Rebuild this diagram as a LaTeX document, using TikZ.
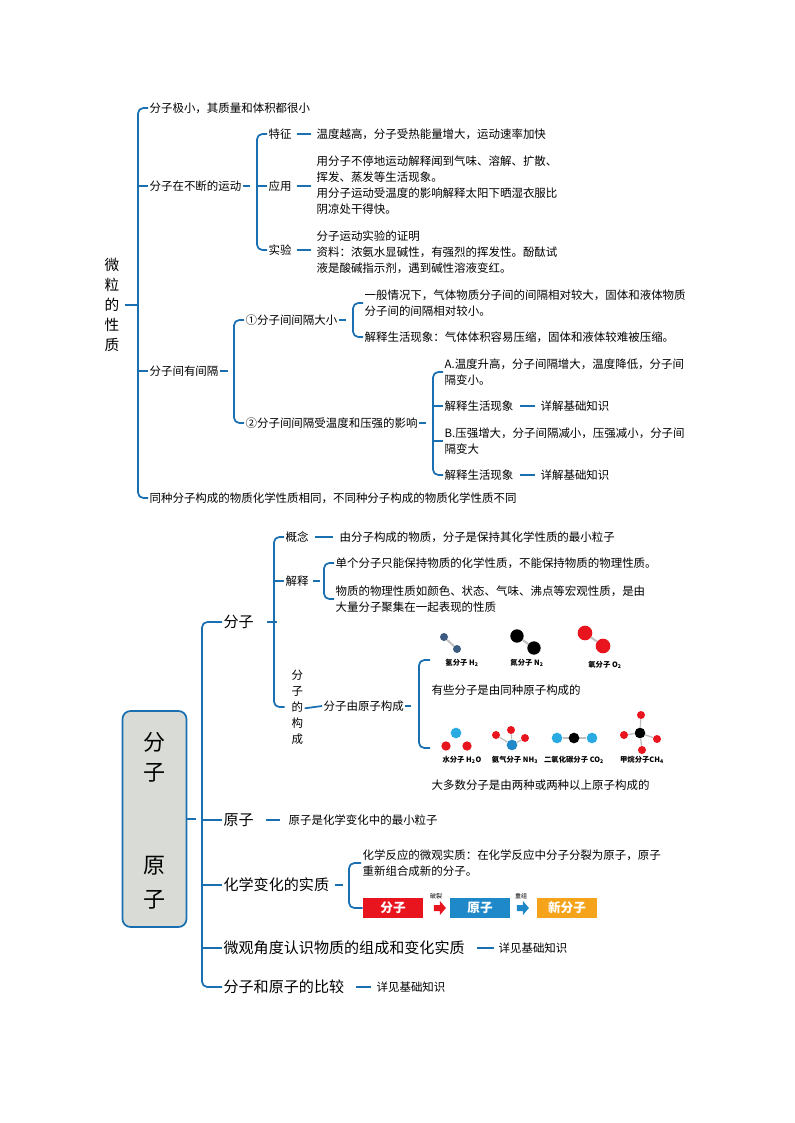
\documentclass[tikz,border=0pt]{standalone}
\usepackage{fontspec}
\setmainfont{Noto Sans CJK SC}
\usetikzlibrary{positioning,arrows.meta}
\definecolor{lineblue}{HTML}{1A6FB0}
\definecolor{boxgray}{HTML}{D9DCD6}
\definecolor{hblue}{HTML}{3D5A80}
\definecolor{ored}{HTML}{E8141E}
\definecolor{nblue}{HTML}{1E88C8}
\definecolor{cyanball}{HTML}{29ABE2}
\definecolor{newor}{HTML}{F5A31A}
\tikzset{
  txt/.style={anchor=west, inner sep=1pt, align=left, font=\fontsize{8.6}{12}\selectfont},
  big/.style={anchor=west, inner sep=1pt, font=\fontsize{11.3}{14}\selectfont},
  br/.style={draw=lineblue, line width=1.3pt, rounded corners=4pt},
  lk/.style={draw=lineblue, line width=1.3pt},
  mol/.style={anchor=center, inner sep=0pt, font=\bfseries\fontsize{5.5}{6}\selectfont},
  stepbox/.style={minimum width=45pt, minimum height=15pt, inner sep=0pt, text=white, font=\bfseries\fontsize{9.5}{10}\selectfont},
  ball/.style={circle, inner sep=0pt},
  fatarrow/.style={insert path={-- ++(0,-3) -- ++(6,0) -- ++(0,-4) -- ++(6,7) -- ++(-6,7) -- ++(0,-4) -- ++(-6,0) -- cycle}}
}
\begin{document}
\begin{tikzpicture}[x=0.75pt,y=-0.75pt]
\useasboundingbox (0,0) rectangle (794,1123);

% ---- upper map
\node[txt, align=center, font=\fontsize{11}{15}\selectfont] (root) at (103,305) {微\\粒\\的\\性\\质};
\node[txt] (small) at (148,108) {分子极小，其质量和体积都很小};
\node[txt] (move) at (148,186) {分子在不断的运动};
\node[txt] (gap) at (148,371) {分子间有间隔};
\node[txt] (same) at (148,498) {同种分子构成的物质化学性质相同，不同种分子构成的物质化学性质不同};
\draw[lk] ([xshift=3]root.east) -- ++(12,0);
\draw[br] (small.west) -- ++(-10,0) |- (same.west);
\draw[br] (move.west) -- ++(-10,0);
\draw[br] (gap.west) -- ++(-10,0);

\node[txt] (feat) at (267,134) {特征};
\node[txt] (use) at (267,186) {应用};
\node[txt] (exp) at (267,250) {实验};
\draw[lk] (move.east) -- ++(7,0);
\draw[br] (feat.west) -- ++(-10,0) |- (exp.west);
\draw[br] (use.west) -- ++(-10,0);
\node[txt] (featT) at (315,134) {温度越高，分子受热能量增大，运动速率加快};
\node[txt] (useT) at (315,185) {用分子不停地运动解释闻到气味、溶解、扩散、\\挥发、蒸发等生活现象。\\用分子运动受温度的影响解释太阳下晒湿衣服比\\阴凉处干得快。};
\node[txt] (expT) at (315,252) {分子运动实验的证明\\资料：浓氨水显碱性，有强烈的挥发性。酚酞试\\液是酸碱指示剂，遇到碱性溶液变红。};
\draw[lk] ([xshift=3]feat.east) -- ([xshift=-3]featT.west);
\draw[lk] ([xshift=3]use.east) -- ([xshift=-3]use.east -| useT.west);
\draw[lk] ([xshift=3]exp.east) -- ([xshift=-3]exp.east -| expT.west);

\node[txt] (size) at (244,320) {①分子间间隔大小};
\node[txt] (tp) at (244,423) {②分子间间隔受温度和压强的影响};
\draw[lk] (gap.east) -- ++(8,0);
\draw[br] (size.west) -- ++(-10,0) |- (tp.west);
\node[txt] (gen) at (363,303) {一般情况下，气体物质分子间的间隔相对较大，固体和液体物质\\分子间的间隔相对较小。};
\node[txt] (life) at (363,337) {解释生活现象：气体体积容易压缩，固体和液体较难被压缩。};
\draw[lk] (size.east) -- ++(7,0);
\draw[br] (gen.west) -- ++(-10,0) |- (life.west);

\node[txt] (tA) at (443,372) {A.温度升高，分子间隔增大，温度降低，分子间\\隔变小。};
\node[txt] (lA) at (443,406) {解释生活现象};
\node[txt] (pB) at (443,441) {B.压强增大，分子间隔减小，压强减小，分子间\\隔变大};
\node[txt] (lB) at (443,475) {解释生活现象};
\node[txt] (dA) at (539,406) {详解基础知识};
\node[txt] (dB) at (539,475) {详解基础知识};
\draw[lk] (tp.east) -- ++(7,0);
\draw[br] (tA.west) -- ++(-10,0) |- (lB.west);
\draw[br] (lA.west) -- ++(-10,0);
\draw[br] (pB.west) -- ++(-10,0);
\draw[lk] ([xshift=4]lA.east) -- ([xshift=-3]dA.west);
\draw[lk] ([xshift=4]lB.east) -- ([xshift=-3]dB.west);

% ---- lower map
\node[draw=lineblue, line width=1.3pt, fill=boxgray, rounded corners=6pt,
  minimum width=48pt, minimum height=162pt, inner sep=0pt] (box) at (154.5,819) {};
\foreach \c/\yy in {分/742,子/773,原/866,子/900}
  \node[inner sep=0pt, font=\fontsize{16.5}{18}\selectfont] at (154.5,\yy) {\c};

\node[big] (mol) at (222,622) {分子};
\node[big] (atom) at (222,820) {原子};
\node[big] (ess) at (222,885) {化学变化的实质};
\node[big] (micro) at (222,948) {微观角度认识物质的组成和变化实质};
\node[big] (cmp) at (222,987) {分子和原子的比较};
\draw[lk] (box.east) -- ++(9,0);
\draw[br] (mol.west) -- ++(-20,0) |- (cmp.west);
\foreach \n in {atom,ess,micro}
  \draw[br] (\n.west) -- ++(-20,0);

\node[txt] (con) at (284,537) {概念};
\node[txt] (expl) at (284,581) {解释};
\node[txt, align=center] (form) at (290,707) {分\\子\\的\\构\\成};
\draw[lk] ([xshift=9]mol.east) -- ++(10,0);
\draw[br] (con.west) -- ++(-10,0) |- ([xshift=-4]form.west);
\draw[br] (expl.west) -- ++(-10,0);
\node[txt] (conT) at (338,537) {由分子构成的物质，分子是保持其化学性质的最小粒子};
\draw[lk] ([xshift=4]con.east) -- ([xshift=-4]conT.west);
\node[txt] (e1) at (334,563) {单个分子只能保持物质的化学性质，不能保持物质的物理性质。};
\node[txt] (e2) at (334,599) {物质的物理性质如颜色、状态、气味、沸点等宏观性质，是由\\大量分子聚集在一起表现的性质};
\draw[lk] ([xshift=2]expl.east) -- ++(7,0);
\draw[br] (e1.west) -- ++(-10,0) |- (e2.west);

\node[txt] (byatom) at (322,706) {分子由原子构成};
\draw[lk] ([yshift=-1]form.east) -- (byatom.west);
\node[txt] (some) at (430,690) {有些分子是由同种原子构成的};
\node[txt] (most) at (430,785) {大多数分子是由两种或两种以上原子构成的};
\coordinate (bt) at (430,660);
\coordinate (bb) at (430,748);
\draw[lk] (byatom.east) -- ++(6,0);
\draw[br] (bt) -- ++(-11,0) |- (bb);

% molecules, first row
\node[ball, fill=hblue, minimum size=6pt] (h1) at (444,637) {};
\node[ball, fill=hblue, minimum size=6pt] (h2) at (457,649) {};
\draw[gray!50, line width=1.5pt] (h1) -- (h2);
\node[ball, fill=black, minimum size=10pt] (n1) at (517,636) {};
\node[ball, fill=black, minimum size=10pt] (n2) at (534,648) {};
\draw[gray!50, line width=1.5pt] (n1) -- (n2);
\node[ball, fill=ored, minimum size=11pt] (o1) at (585,633) {};
\node[ball, fill=ored, minimum size=11pt] (o2) at (603,646) {};
\draw[gray!50, line width=1.5pt] (o1) -- (o2);
\node[mol] at (462,663) {氢分子 H\textsubscript{2}};
\node[mol] at (527,663) {氮分子 N\textsubscript{2}};
\node[mol] at (605,665) {氧分子 O\textsubscript{2}};

% molecules, second row
\node[ball, fill=cyanball, minimum size=8pt] (wo) at (456,733) {};
\node[ball, fill=ored, minimum size=7pt] (wa) at (446,746) {};
\node[ball, fill=ored, minimum size=7pt] (wb) at (467,746) {};
\node[ball, fill=ored, minimum size=6pt] (na) at (496,735) {};
\node[ball, fill=ored, minimum size=6pt] (nb) at (511,730) {};
\node[ball, fill=ored, minimum size=6pt] (nc) at (525,738) {};
\node[ball, fill=nblue, minimum size=8pt] (nn) at (512,745) {};
\draw[gray!50, line width=1pt] (na) -- (nn) (nb) -- (nn) (nc) -- (nn);
\node[ball, fill=cyanball, minimum size=8pt] (ca) at (557,738) {};
\node[ball, fill=cyanball, minimum size=8pt] (cb) at (592,738) {};
\draw[gray!50, line width=1.5pt] (ca) -- (cb);
\node[ball, fill=black, minimum size=8pt] (cc) at (574,738) {};
\node[ball, fill=black, minimum size=8pt] (mm) at (640,733) {};
\node[ball, fill=ored, minimum size=6pt] (ma) at (641,715) {};
\node[ball, fill=ored, minimum size=6pt] (mb) at (624,735) {};
\node[ball, fill=ored, minimum size=6pt] (mc) at (657,739) {};
\node[ball, fill=ored, minimum size=6pt] (md) at (642,750) {};
\draw[gray!50, line width=1pt] (ma) -- (mm) (mb) -- (mm) (mc) -- (mm) (md) -- (mm);
\node[mol] at (462,760) {水分子 H\textsubscript{2}O};
\node[mol] at (515,760) {氨气分子 NH\textsubscript{3}};
\node[mol] at (574,760) {二氧化碳分子 CO\textsubscript{2}};
\node[mol] at (642,760) {甲烷分子CH\textsubscript{4}};

% atom and essence
\node[txt] (atomT) at (287,820) {原子是化学变化中的最小粒子};
\draw[lk] ([xshift=8]atom.east) -- ([xshift=-5]atomT.west);
\node[txt] (essT) at (361,863) {化学反应的微观实质：在化学反应中分子分裂为原子，原子\\重新组合成新的分子。};
\node[stepbox, fill=ored] (s1) at (393,908) {分子};
\node[stepbox, fill=nblue] (s2) at (480,908) {原子};
\node[stepbox, fill=newor] (s3) at (567,908) {新分子};
\draw[lk] ([xshift=3]ess.east) -- ++(8,0);
\draw[br] (essT.west) -- ++(-12,0) |- (s1.west);
\fill[ored] ([xshift=8]s1.east) [fatarrow];
\fill[nblue] ([xshift=5]s2.east) [fatarrow];
\node[inner sep=0pt, font=\fontsize{4.5}{5}\selectfont] at (436,896) {破裂};
\node[inner sep=0pt, font=\fontsize{4.5}{5}\selectfont] at (521,896) {重组};

\node[txt] (microT) at (497,948) {详见基础知识};
\draw[lk] ([xshift=8]micro.east) -- ([xshift=-2]microT.west);
\node[txt] (cmpT) at (375,987) {详见基础知识};
\draw[lk] ([xshift=8]cmp.east) -- ([xshift=-3]cmpT.west);
\end{tikzpicture}
\end{document}
